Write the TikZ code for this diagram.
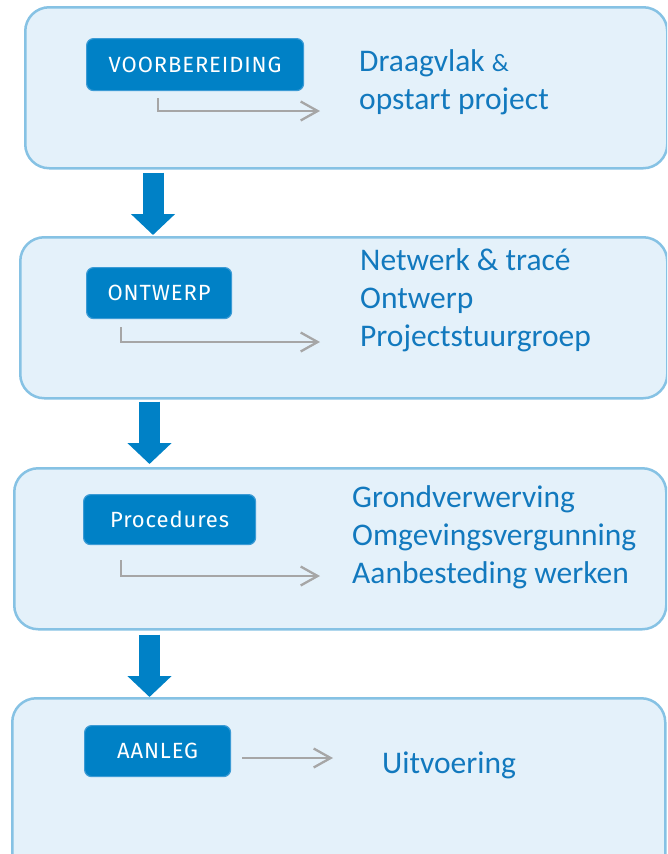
\documentclass[tikz,border=0pt]{standalone}
\usepackage{fontspec}
\setmainfont{Carlito}
\newfontfamily\btnfont[LetterSpace=4]{Fira Sans}
\usetikzlibrary{arrows.meta}
\definecolor{boxfill}{RGB}{228,241,250}
\definecolor{boxline}{RGB}{134,194,228}
\definecolor{btnblue}{RGB}{0,129,198}
\definecolor{btnline}{RGB}{60,155,213}
\definecolor{txtblue}{RGB}{18,121,190}
\definecolor{conngray}{RGB}{166,166,166}
\begin{document}
\begin{tikzpicture}[x=1pt,y=-1pt,
  stage/.style={draw=boxline, fill=boxfill, line width=2.5pt, rounded corners=24pt, anchor=north west, inner sep=0pt},
  btn/.style={draw=btnline, fill=btnblue, line width=1.2pt, rounded corners=7pt, text=white,
    font=\btnfont\fontsize{22}{26}\selectfont, inner sep=0pt, anchor=north west},
  info/.style={text=txtblue, font=\fontsize{31.5}{38}\selectfont, align=left, anchor=base west, inner sep=0pt},
  bigarrow/.style={draw=btnblue, line width=21pt, -{Triangle[width=43pt,length=21pt]}},
  conn/.style={draw=conngray, line width=2.3pt, -{Straight Barb[length=17pt,width=19pt]}}]
\useasboundingbox (0,0) rectangle (667,854);
\clip (0,0) rectangle (667,854);
% stages
\node[stage, minimum width=642pt, minimum height=161pt] (s1) at (24,6) {};
\node[stage, minimum width=647pt, minimum height=161pt] (s2) at (19,236) {};
\node[stage, minimum width=652pt, minimum height=161pt] (s3) at (13,467) {};
\node[stage, minimum width=653pt, minimum height=200pt] (s4) at (11,697) {};
% buttons
\node[btn, minimum width=217pt, minimum height=52pt] (b1) at (86,38) {VOORBEREIDING};
\node[btn, minimum width=145pt, minimum height=51pt] (b2) at (86,267) {ONTWERP};
\node[btn, minimum width=172pt, minimum height=50pt] (b3) at (83,494) {Procedures};
\node[btn, minimum width=146pt, minimum height=51pt] (b4) at (84,725) {AANLEG};
% texts (anchor = baseline of the last line)
\node[info] (t1) at (359,109) {Draagvlak {\fontsize{25}{30}\selectfont\&}\\opstart project};
\node[info] (t2) at (360,346) {Netwerk \& tracé\\Ontwerp\\Projectstuurgroep};
\node[info] (t3) at (352,583) {Grondverwerving\\Omgevingsvergunning\\Aanbesteding werken};
\node[info] (t4) at (382,773) {Uitvoering};
% big arrows
\coordinate (x1) at (153,0);
\coordinate (x2) at (149.5,0);
\draw[bigarrow] ([yshift=-3pt]s1.south -| x1) -- ([yshift=1pt]s2.north -| x1);
\draw[bigarrow] ([yshift=-2pt]s2.south -| x2) -- ([yshift=3pt]s3.north -| x2);
\draw[bigarrow] ([yshift=-4pt]s3.south -| x2) -- (s4.north -| x2);
% connectors
\coordinate (e1) at (320,111);
\coordinate (e2) at (320,342);
\coordinate (e3) at (320,576);
\coordinate (c4s) at (242,758);
\coordinate (e4) at (333,758);
\draw[conn] ([shift={(72pt,-7pt)}]b1.south west) |- (e1);
\draw[conn] ([shift={(35pt,-8pt)}]b2.south west) |- (e2);
\draw[conn] ([shift={(38pt,-15pt)}]b3.south west) |- (e3);
\draw[conn] (c4s) -- (e4);
\end{tikzpicture}
\end{document}
